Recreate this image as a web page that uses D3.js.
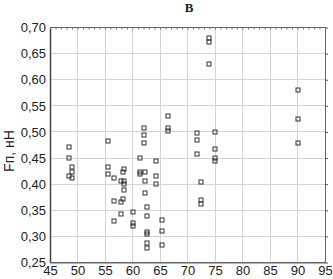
<!DOCTYPE html>
<html><head><meta charset="utf-8">
<script src="https://cdn.jsdelivr.net/npm/d3@7/dist/d3.min.js"></script>
<style>body{margin:0;background:#fff}svg{display:block}</style>
</head><body><svg id="c" width="333" height="279"></svg>
<script>
const titleText = "В";
const yAxisLabel = "Fп, нН";
const xTicks = [45,50,55,60,65,70,75,80,85,90,95];
const yTicks = [0.25,0.30,0.35,0.40,0.45,0.50,0.55,0.60,0.65,0.70];
const xValues = [48.45,48.4,49.0,49.0,48.45,49.0,
  55.5,55.5,55.5,56.6,58.5,58.3,57.9,58.5,58.5,58.5,56.6,57.9,58.3,57.9,56.6,
  60.0,60.0,60.0,
  62.1,62.1,62.1,61.4,61.4,61.4,62.3,62.3,62.3,62.6,62.6,62.6,62.6,62.6,62.6,
  64.2,64.2,64.2,65.4,65.4,65.4,66.4,66.4,66.4,
  71.7,71.7,71.7,72.5,72.5,72.5,73.9,73.9,73.9,75.0,75.0,75.0,75.0,90.0,90.0,90.0];
const yValues = [0.4706,0.4495,0.4334,0.4227,0.4162,0.4124,
  0.4832,0.4334,0.4189,0.4124,0.4285,0.4227,0.406,0.406,0.3997,0.3888,0.3683,0.3653,0.371,0.3423,0.3295,
  0.3467,0.325,0.3199,
  0.5081,0.4941,0.4794,0.4507,0.4227,0.4189,0.4239,0.406,0.3825,0.3557,0.3396,0.309,0.304,0.2868,0.2783,
  0.4449,0.4162,0.3997,0.3314,0.3109,0.2841,0.5305,0.5081,0.5018,
  0.4974,0.4846,0.4578,0.4047,0.3697,0.362,0.6805,0.6728,0.6295,0.5005,0.4673,0.4495,0.4449,0.5803,0.5248,0.4794];

const L=50,R=325,T=27.5,B=262.5;
const svg=d3.select("#c");
const x=d3.scaleLinear().domain([45,95]).range([L,R]);
const y=d3.scaleLinear().domain([0.25,0.70]).range([B,T]);

// grid
svg.append("g").selectAll("line").data(xTicks.slice(1,-1)).join("line")
  .attr("x1",d=>x(d)).attr("x2",d=>x(d)).attr("y1",T).attr("y2",B)
  .attr("stroke","#d4d4d4").attr("stroke-width",1).attr("shape-rendering","crispEdges");
svg.append("g").selectAll("line").data(yTicks.slice(1,-1)).join("line")
  .attr("y1",d=>y(d)).attr("y2",d=>y(d)).attr("x1",L).attr("x2",R)
  .attr("stroke","#d4d4d4").attr("stroke-width",1).attr("shape-rendering","crispEdges");

// frame
svg.append("rect").attr("x",L).attr("y",T).attr("width",R-L).attr("height",B-T)
  .attr("fill","none").attr("stroke","#666").attr("stroke-width",1).attr("shape-rendering","crispEdges");

// axes
const fmtY=d=>d3.format(".2f")(d).replace(".",",");
const ya=svg.append("g").attr("transform",`translate(${L},0)`)
  .call(d3.axisLeft(y).tickValues(yTicks).tickFormat(fmtY).tickSize(0).tickPadding(4));
const xa=svg.append("g").attr("transform",`translate(0,${B})`)
  .call(d3.axisBottom(x).tickValues(xTicks).tickSize(0).tickPadding(3));
[ya,xa].forEach(a=>{
  a.select(".domain").attr("stroke","#444").attr("stroke-width",1.5);
  a.selectAll("text").attr("font-family","Liberation Sans, Arial, sans-serif").attr("font-size",13).attr("fill","#222");
});
xa.select(".domain").attr("stroke","#666").attr("stroke-width",1);
// right ticks
const yr=svg.append("g").attr("transform",`translate(${R},0)`)
  .call(d3.axisRight(y).tickValues(yTicks).tickSize(3).tickFormat(""));
yr.select(".domain").remove();
yr.selectAll("line").attr("stroke","#555");
// top minor ticks
const xt=svg.append("g").attr("transform",`translate(0,${T})`)
  .call(d3.axisBottom(x).ticks(50).tickSize(2).tickFormat(""));
xt.select(".domain").remove();
xt.selectAll("line").attr("stroke","#777");

// points
const pts=xValues.map((v,i)=>({x:v,y:yValues[i]}));
svg.append("g").selectAll("rect").data(pts).join("rect")
  .attr("x",d=>Math.round(x(d.x))-2).attr("y",d=>Math.round(y(d.y))-2)
  .attr("width",4).attr("height",4)
  .attr("fill","none").attr("stroke","#333").attr("stroke-width",1);

// title
svg.append("text").attr("x",189).attr("y",12).attr("text-anchor","middle")
  .attr("font-family","Liberation Serif, Times New Roman, serif").attr("font-weight","bold")
  .attr("font-size",13).attr("fill","#222").text(titleText);
// y label
svg.append("text").attr("transform","translate(14,151) rotate(-90)").attr("text-anchor","middle")
  .attr("font-family","Liberation Sans, Arial, sans-serif").attr("font-size",14).attr("fill","#222")
  .text(yAxisLabel);
</script></body></html>
